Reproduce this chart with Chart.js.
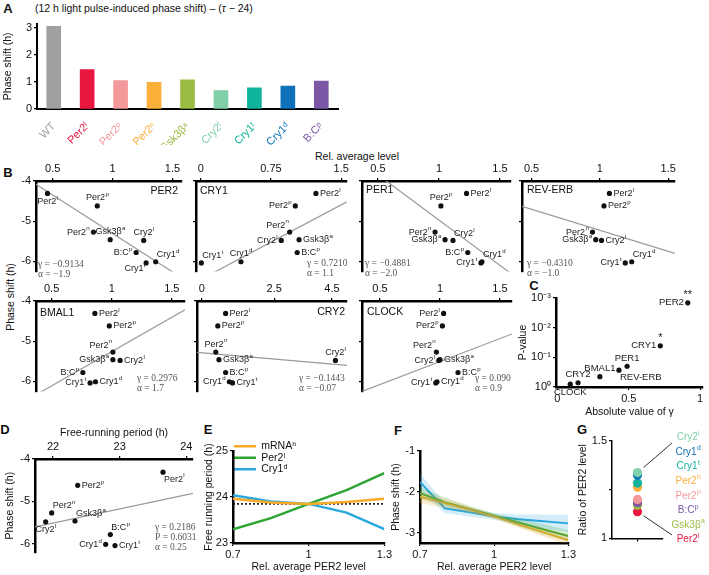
<!DOCTYPE html>
<html><head><meta charset="utf-8">
<script src="https://cdn.jsdelivr.net/npm/chart.js@4.4.1/dist/chart.umd.min.js"></script>
<style>
body{margin:0;width:709px;height:575px;position:relative;background:#fff;overflow:hidden;font-family:"Liberation Sans",Arial,sans-serif;color:#111}
.t{position:absolute;white-space:nowrap;transform:translate(-50%,-50%);line-height:1}
.lt{font-weight:bold;font-size:13px}
canvas{position:absolute}
</style></head><body>
<div class="t lt" style="left:8px;top:8px">A</div>
<div class="t lt" style="left:8px;top:172px">B</div>
<div class="t lt" style="left:534px;top:285px">C</div>
<div class="t lt" style="left:5px;top:429px">D</div>
<div class="t lt" style="left:208px;top:429px">E</div>
<div class="t lt" style="left:398px;top:430px">F</div>
<div class="t lt" style="left:582px;top:429px">G</div>
<div class="t" style="left:35px;top:8px;transform:translate(0,-50%);font-size:10.5px">(12 h light pulse-induced phase shift) – (<i>τ</i> − 24)</div>
<div class="t" style="left:357px;top:156px;font-size:10.5px">Rel. average level</div>
<div class="t" style="left:10px;top:297px;transform:translate(-50%,-50%) rotate(-90deg);font-size:10.5px">Phase shift (h)</div>
<script>
// ---- A: bar chart
const barCats = ['WT', 'Per2ˡ', 'Per2ᵖ', 'Per2ⁿ', 'Gsk3βᵃ', 'Cry2ˡ', 'Cry1ᵗ', 'Cry1ᵈ', 'B:Cᵖ'];
const barVals = [3.05, 1.45, 1.05, 0.98, 1.08, 0.68, 0.78, 0.85, 1.03];
const barColors = ['#a0a0a0', '#e8173f', '#f49a9a', '#fbb03b', '#9bbb43', '#80cfa9', '#10b39b', '#0d72b9', '#7b57a6'];
const barTicks = [0, 1, 2, 3];

// ---- B / D: genotypes and phase shifts
const genotypes = [['Per2', 'l'], ['Per2', 'p'], ['Per2', 'n'], ['Gsk3β', 'a'], ['Cry2', 'l'], ['B:C', 'p'], ['Cry1', 't'], ['Cry1', 'd']];
const phaseShift = [-4.31, -4.62, -5.27, -5.46, -5.48, -5.78, -6.04, -6.01];
const per2Level = [0.456, 0.872, 0.84, 0.98, 1.26, 1.197, 1.28, 1.36];
const cry1Level = [1.23, 1.01, 0.95, 1.05, 0.86, 1.03, 0.007, 0.43];
const per1Level = [1.226, 1.016, 0.968, 1.05, 1.115, 1.236, 1.344, 1.352];
const revErbLevel = [1.07, 1.03, 0.946, 0.97, 1.012, null, 1.186, 1.233];
const bmal1Level = [0.86, 0.98, 1.01, 1.01, 1.07, 0.76, 0.82, 0.865];
const cry2Level = [0.82, 0.55, 0.48, 0.59, 4.62, 0.82, 1.06, 0.95];
const clockLevel = [1.03, 1.02, 0.97, 1.0, 0.99, 1.15, 0.965, 0.975];
const freePeriod = [23.65, 22.37, 21.98, 22.33, 21.89, 22.86, 22.93, 22.79];

// regression lines (end points)
const per2Fit = [[0.36, -4.08], [1.52, -6.3]];
const cry1Fit = [[0.13, -6.29], [1.56, -4.52]];
const per1Fit = [[0.56, -3.98], [1.58, -6.28]];
const revErbFit = [[0.43, -4.63], [1.55, -5.8]];
const bmal1Fit = [[0.39, -6.3], [1.61, -4.22]];
const cry2Fit = [[-0.17, -5.28], [5.02, -5.6]];
const clockFit = [[0.35, -6.25], [1.6, -4.82]];
const periodFit = [[21.73, -5.6], [24.1, -4.81]];

const yTicks = [-6, -5, -4];
const yTickLabels = ['-6', '-5', '-4'];
const levelTicks = [0.5, 1, 1.5];
const levelTickLabels = ['0.5', '1', '1.5'];
const cry1Ticks = [0, 0.75, 1.5];
const cry1TickLabels = ['0', '0.75', '1.5'];
const cry2Ticks = [0, 2.5, 4.5];
const cry2TickLabels = ['0', '2.5', '4.5'];
const periodTicks = [22, 23, 24];
const periodTickLabels = ['22', '23', '24'];

const statsPer2 = ['γ = −0.9134', 'α = −1.9'];
const statsCry1 = ['γ = 0.7210', 'α = 1.1'];
const statsPer1 = ['γ = −0.4881', 'α = −2.0'];
const statsRevErb = ['γ = −0.4310', 'α = −1.0'];
const statsBmal1 = ['γ = 0.2976', 'α = 1.7'];
const statsCry2 = ['γ = −0.1443', 'α = −0.07'];
const statsClock = ['γ = 0.090', 'α = 0.9'];
const statsPeriod = ['γ = 0.2186', 'P = 0.6031', 'α = 0.25'];

// ---- C
const cNames = ['PER2', 'CRY1', 'PER1', 'REV-ERB', 'BMAL1', 'CRY2', 'CLOCK'];
const cGamma = [0.9134, 0.7210, 0.4881, 0.4310, 0.2976, 0.1443, 0.090];
const cP = [0.00145, 0.041, 0.2, 0.27, 0.45, 0.72, 0.8];
const cStars = ['**', '*', '', '', '', '', ''];
const cYTicks = [1e-3, 1e-2, 1e-1, 1];
const cYTickLabels = ['10⁻³', '10⁻²', '10⁻¹', '10⁰'];
const cXTicks = [0, 0.5, 1];
const cXTickLabels = ['0', '0.5', '1'];

// ---- E
const eX = [0.7, 0.85, 1, 1.15, 1.3];
const eMrna = [23.96, 23.88, 23.85, 23.89, 23.96];
const ePer2 = [23.3, 23.54, 23.85, 24.15, 24.52];
const eCry1 = [24.04, 23.9, 23.85, 23.66, 23.3];
const eRefX = [0.7, 1.3];
const eRef = [23.85, 23.85];

// ---- F
const fX = [0.7, 0.8, 0.9, 1.0, 1.1, 1.2, 1.3];
const fMrna = [-2.12, -2.27, -2.43, -2.6, -2.8, -2.99, -3.18];
const fMrnaHi = [-1.98, -2.16, -2.35, -2.54, -2.72, -2.88, -3.05];
const fMrnaLo = [-2.27, -2.39, -2.5, -2.66, -2.88, -3.1, -3.3];
const fPer2 = [-2.03, -2.25, -2.42, -2.58, -2.75, -2.92, -3.08];
const fPer2Hi = [-1.88, -2.14, -2.34, -2.52, -2.65, -2.79, -2.93];
const fPer2Lo = [-2.18, -2.36, -2.49, -2.64, -2.85, -3.05, -3.22];
const fCry1 = [-1.76, -2.4, -2.5, -2.6, -2.67, -2.72, -2.77];
const fCry1Hi = [-1.55, -2.27, -2.4, -2.52, -2.55, -2.55, -2.56];
const fCry1Lo = [-1.97, -2.52, -2.6, -2.68, -2.8, -2.9, -2.98];
const pvTicks = [0.7, 1, 1.3];
const pvTickLabels = ['0.7', '1', '1.3'];

// ---- G (drawn bottom to top)
const gNames = [['Per2', 'l'], ['Gsk3β', 'a'], ['B:C', 'p'], ['Per2', 'p'], ['Per2', 'n'], ['Cry1', 't'], ['Cry1', 'd'], ['Cry2', 'l']];
const gRatio = [1.137, 1.17, 1.183, 1.2, 1.262, 1.284, 1.325, 1.338];
const gColors = ['#e8173f', '#9bbb43', '#7b57a6', '#f49a9a', '#fbb03b', '#10b39b', '#0d72b9', '#80cfa9'];

const ORANGE = '#f7a928', GREEN = '#2ca532', BLUE = '#2aa7df';
const sans = '"Liberation Sans", Arial, sans-serif';
const serif = '"Liberation Serif", "DejaVu Serif", serif';

Chart.defaults.font.family = sans;
Chart.defaults.color = '#111';
Chart.defaults.animation = false;
Chart.defaults.plugins.legend.display = false;
Chart.defaults.plugins.tooltip.enabled = false;

function drawRich(ctx, base, sup, x, y, align, size, color, family) {
  const fam = family || sans;
  ctx.save();
  ctx.fillStyle = color;
  ctx.textBaseline = 'middle';
  ctx.textAlign = 'left';
  ctx.font = size + 'px ' + fam;
  const wb = ctx.measureText(base).width;
  let ws = 0;
  if (sup) { ctx.font = (size * 0.68) + 'px ' + fam; ws = ctx.measureText(sup).width; }
  const w = wb + ws;
  const x0 = align === 'right' ? x - w : align === 'center' ? x - w / 2 : x;
  ctx.font = size + 'px ' + fam;
  ctx.fillText(base, x0, y);
  if (sup) { ctx.font = (size * 0.68) + 'px ' + fam; ctx.fillText(sup, x0 + wb + 0.3, y - size * 0.38); }
  ctx.restore();
}

// labels next to points, placed by a short code
const ptLabelPlugin = {
  id: 'ptlabels',
  afterDatasetsDraw(chart) {
    chart.data.datasets.forEach((ds, di) => {
      if (!ds.ptLabels) return;
      const els = chart.getDatasetMeta(di).data;
      const fs = ds.ptSize || 9;
      ds.ptLabels.forEach((lab, i) => {
        const el = els[i], q = ds.ptPlace[i];
        if (!el || !lab || !lab[0]) return;
        let x = el.x, y = el.y, a = 'left';
        if (q === 'r') x += 4;
        else if (q === 'l') { x -= 4; a = 'right'; }
        else if (q === 't') { y -= 8; a = 'center'; }
        else if (q === 'b') { y += 8; a = 'center'; }
        else if (q === 'tr') { x += 1; y -= 7; }
        else if (q === 'tl') { x -= 1; y -= 7; a = 'right'; }
        else if (q === 'br') { x += 1; y += 7; }
        else if (q === 'bl') { x -= 1; y += 6; a = 'right'; }
        drawRich(chart.ctx, lab[0], lab[1], x, y, a, fs, ds.ptColor || '#222');
      });
    });
  }
};

function notesPlugin(box, items) {
  return {
    id: 'notes',
    afterDraw(chart) {
      items.forEach(n => drawRich(chart.ctx, n.t, n.s, n.x - box.l, n.y - box.t, n.align || 'left',
        n.size || 10, n.color || '#111', n.family));
    }
  };
}

function statNotes(x, y, lines) {
  return lines.map((t, i) => ({t, x, y: y + i * 10, size: 9.5, family: serif, color: '#555'}));
}

function axis(pos, min, max, ticks, labels, extra) {
  return Object.assign({
    type: 'linear', position: pos, min, max,
    border: {display: true, color: '#000', width: 2.5},
    grid: {drawOnChartArea: false, drawTicks: true, tickLength: 3, color: '#000', lineWidth: 1.2},
    afterBuildTicks: s => { s.ticks = ticks.map(v => ({value: v})); },
    ticks: {autoSkip: false, maxRotation: 0, padding: 2, font: {size: 11}, color: '#111',
      callback: (v, i) => labels ? labels[i] : ''}
  }, extra || {});
}

function axTitle(text, pad) {
  return {display: true, text, font: {size: 10.5}, color: '#111', padding: pad || {top: 2, bottom: 2}};
}

// place a chart so that its plot area lands on the given page rectangle
function mk(box, area, config) {
  const c = document.createElement('canvas');
  c.width = box.w; c.height = box.h;
  c.style.left = box.l + 'px'; c.style.top = box.t + 'px';
  c.style.width = box.w + 'px'; c.style.height = box.h + 'px';
  document.body.appendChild(c);
  const sides = {left: area.x0 - box.l, top: area.y0 - box.t, right: box.l + box.w - area.x1, bottom: box.t + box.h - area.y1};
  const pad = {left: 0, top: 0, right: 0, bottom: 0};
  const used = {};
  Object.values(config.options.scales).forEach(s => {
    const pos = s.position;
    used[pos] = true;
    s.afterFit = sc => { if (pos === 'left' || pos === 'right') sc.width = sides[pos]; else sc.height = sides[pos]; };
  });
  for (const k in sides) if (!used[k]) pad[k] = sides[k];
  config.options.layout = {padding: pad};
  config.options.responsive = false;
  return new Chart(c, config);
}

// ---------- A
mk({l: 0, t: 15, w: 342, h: 130}, {x0: 37, y0: 23, x1: 338, y1: 109}, {
  type: 'bar',
  data: {labels: barCats, datasets: [{data: barVals, backgroundColor: barColors, barThickness: 14}]},
  options: {scales: {
    x: {type: 'category', position: 'bottom',
      border: {display: true, color: '#000', width: 2},
      grid: {display: false},
      ticks: {color: c => barColors[c.index], minRotation: 45, maxRotation: 45, autoSkip: false, padding: 3, font: {size: 11}}},
    y: axis('left', 0, 3.15, barTicks, barTicks.map(String), {border: {display: true, color: '#000', width: 2}, title: axTitle('Phase shift (h)')})
  }}
});

// ---------- B
function bPanel(p) {
  const pts = [], labs = [], pl = [];
  p.xs.forEach((x, i) => {
    if (x == null) return;
    pts.push({x, y: phaseShift[i]}); labs.push(genotypes[i]); pl.push(p.place[i]);
  });
  return mk(p.box, p.area, {
    type: 'scatter',
    data: {datasets: [
      {data: pts, pointRadius: 2.6, backgroundColor: '#111', borderWidth: 0, order: 0, ptLabels: labs, ptPlace: pl},
      {data: p.fit.map(q => ({x: q[0], y: q[1]})), showLine: true, pointRadius: 0, borderColor: '#9a9a9a', borderWidth: 1.2, order: 1, clip: 0}
    ]},
    options: {scales: {
      x: axis(p.xPos || 'top', p.xr[0], p.xr[1], p.xt, p.xtl, p.xExtra),
      y: axis('left', p.yMin, -4, yTicks, p.yLab ? yTickLabels : null, p.yExtra)
    }},
    plugins: [ptLabelPlugin, notesPlugin(p.box, p.notes)]
  });
}

const r1 = {t: 159, h: 121, y0: 181, y1: 273};
const r2 = {t: 279, h: 121, y0: 301, y1: 394};

bPanel({box: {l: 0, t: r1.t, w: 186, h: r1.h}, area: {x0: 36, y0: r1.y0, x1: 183, y1: r1.y1},
  xs: per2Level, xr: [0.36, 1.58], xt: levelTicks, xtl: levelTickLabels, yLab: true, yMin: -6.25, fit: per2Fit,
  place: ['b', 't', 'l', 't', 't', 'l', 'bl', 'tr'],
  notes: [{t: 'PER2', x: 178, y: 191, align: 'right', size: 10.5}].concat(statNotes(38, 264, statsPer2))});

bPanel({box: {l: 186, t: r1.t, w: 165, h: r1.h}, area: {x0: 196, y0: r1.y0, x1: 348, y1: r1.y1},
  xs: cry1Level, xr: [-0.05, 1.56], xt: cry1Ticks, xtl: cry1TickLabels, yMin: -6.25, fit: cry1Fit,
  place: ['r', 'l', 'tl', 'r', 'l', 'r', 'tr', 't'],
  notes: [{t: 'CRY1', x: 200, y: 191, size: 10.5}].concat(statNotes(307, 263, statsCry1))});

bPanel({box: {l: 352, t: r1.t, w: 163, h: r1.h}, area: {x0: 362, y0: r1.y0, x1: 512, y1: r1.y1},
  xs: per1Level, xr: [0.37, 1.59], xt: levelTicks, xtl: levelTickLabels, yMin: -6.25, fit: per1Fit,
  place: ['r', 't', 'l', 'l', 'tr', 'l', 'l', 'tr'],
  notes: [{t: 'PER1', x: 366, y: 190, size: 10.5}].concat(statNotes(365, 263, statsPer1))});

bPanel({box: {l: 512, t: r1.t, w: 167, h: r1.h}, area: {x0: 522, y0: r1.y0, x1: 675, y1: r1.y1},
  xs: revErbLevel, xr: [0.43, 1.55], xt: levelTicks, xtl: levelTickLabels, yMin: -6.25, fit: revErbFit,
  place: ['r', 'r', 'l', 'l', 'r', null, 'l', 'tr'],
  notes: [{t: 'REV-ERB', x: 527, y: 190, size: 10.5}].concat(statNotes(527, 263, statsRevErb))});

bPanel({box: {l: 0, t: r2.t, w: 189, h: r2.h}, area: {x0: 36, y0: r2.y0, x1: 186, y1: r2.y1},
  xs: bmal1Level, xr: [0.37, 1.61], xt: levelTicks, xtl: levelTickLabels, yLab: true, yMin: -6.25, fit: bmal1Fit,
  place: ['r', 'r', 'tl', 'l', 'r', 'l', 'l', 'r'],
  notes: [{t: 'BMAL1', x: 40, y: 313, size: 10.5}].concat(statNotes(137, 378, statsBmal1))});

bPanel({box: {l: 187, t: r2.t, w: 164, h: r2.h}, area: {x0: 197, y0: r2.y0, x1: 348, y1: r2.y1},
  xs: cry2Level, xr: [-0.17, 5.02], xt: cry2Ticks, xtl: cry2TickLabels, yMin: -6.25, fit: cry2Fit,
  place: ['r', 'r', 't', 'r', 't', 'r', 'r', 'l'],
  notes: [{t: 'CRY2', x: 345, y: 312, align: 'right', size: 10.5}].concat(statNotes(299, 378, statsCry2))});

bPanel({box: {l: 352, t: r2.t, w: 164, h: r2.h}, area: {x0: 362, y0: r2.y0, x1: 513, y1: r2.y1},
  xs: clockLevel, xr: [0.35, 1.6], xt: levelTicks, xtl: levelTickLabels, yMin: -6.25, fit: clockFit,
  place: ['l', 'l', 'tl', 'r', 'l', 'r', 'l', 'r'],
  notes: [{t: 'CLOCK', x: 367, y: 312, size: 10.5}].concat(statNotes(475, 378, statsClock))});

// ---------- D
bPanel({box: {l: 0, t: 423, w: 197, h: 138}, area: {x0: 35, y0: 459, x1: 193, y1: 554},
  xs: freePeriod, xr: [21.73, 24.1], xt: periodTicks, xtl: periodTickLabels, yLab: true, yMin: -6.2, fit: periodFit,
  xExtra: {title: axTitle('Free-running period (h)', {top: 4, bottom: 1})},
  yExtra: {title: axTitle('Phase shift (h)', {top: 4, bottom: 2})},
  place: ['br', 'r', 'tr', 'tr', 'b', 'tr', 'r', 'l'],
  notes: statNotes(155, 527, statsPeriod)});

// ---------- C
const cBox = {l: 515, t: 285, w: 194, h: 135};
mk(cBox, {x0: 556, y0: 298, x1: 703, y1: 387}, {
  type: 'scatter',
  data: {datasets: [
    {data: cGamma.map((g, i) => ({x: g, y: cP[i]})), pointRadius: 2.6, backgroundColor: '#111', borderWidth: 0,
      ptLabels: cNames.map(n => [n, '']), ptPlace: ['l', 'l', 't', 'br', 't', 't', 'b'], ptSize: 9.5},
    {data: cGamma.map((g, i) => ({x: g, y: cP[i]})), pointRadius: 0,
      ptLabels: cStars.map(s => [s, '']), ptPlace: cStars.map(() => 't'), ptSize: 11}
  ]},
  options: {scales: {
    x: axis('bottom', -0.01, 1.02, cXTicks, cXTickLabels, {title: axTitle('Absolute value of γ', {top: 1, bottom: 2})}),
    y: axis('left', 1e-3, 1, cYTicks, cYTickLabels, {type: 'logarithmic', reverse: true, title: axTitle('P-value')})
  }},
  plugins: [ptLabelPlugin]
});

// ---------- E
function ln(xs, ys, color, label, extra) {
  return Object.assign({label, data: xs.map((x, i) => ({x, y: ys[i]})), showLine: true, pointRadius: 0,
    borderColor: color, backgroundColor: color, borderWidth: 2.5, fill: false}, extra || {});
}

mk({l: 201, t: 440, w: 193, h: 135}, {x0: 233, y0: 451, x1: 386, y1: 543}, {
  type: 'scatter',
  data: {datasets: [
    ln(eX, eMrna, ORANGE, 'mRNAⁿ'),
    ln(eX, ePer2, GREEN, 'Per2ˡ'),
    ln(eX, eCry1, BLUE, 'Cry1ᵈ'),
    ln(eRefX, eRef, '#000', 'ref', {borderWidth: 1.5, borderDash: [2, 2]})
  ]},
  options: {
    scales: {
      x: axis('bottom', 0.7, 1.3, pvTicks, pvTickLabels, {title: axTitle('Rel. average PER2 level')}),
      y: axis('left', 23, 25, [23, 24, 25], ['23', '24', '25'], {title: axTitle('Free running period (h)')})
    },
    plugins: {legend: {display: true, position: 'chartArea', align: 'start',
      labels: {usePointStyle: true, pointStyle: 'line', pointStyleWidth: 22, boxHeight: 6, padding: 1, font: {size: 10.5},
        filter: it => it.text !== 'ref'}}}
  }
});

// ---------- F
mk({l: 388, t: 440, w: 190, h: 135}, {x0: 420, y0: 451, x1: 570, y1: 543}, {
  type: 'scatter',
  data: {datasets: [
    ln(fX, fMrnaHi, 'rgba(0,0,0,0)', 'mh', {borderWidth: 0, backgroundColor: 'rgba(247,169,40,0.22)', fill: '+1'}),
    ln(fX, fMrnaLo, 'rgba(0,0,0,0)', 'ml', {borderWidth: 0}),
    ln(fX, fPer2Hi, 'rgba(0,0,0,0)', 'ph', {borderWidth: 0, backgroundColor: 'rgba(44,165,50,0.2)', fill: '+1'}),
    ln(fX, fPer2Lo, 'rgba(0,0,0,0)', 'pl', {borderWidth: 0}),
    ln(fX, fCry1Hi, 'rgba(0,0,0,0)', 'ch', {borderWidth: 0, backgroundColor: 'rgba(42,167,223,0.2)', fill: '+1'}),
    ln(fX, fCry1Lo, 'rgba(0,0,0,0)', 'cl', {borderWidth: 0}),
    ln(fX, fMrna, ORANGE, 'mRNAⁿ', {borderWidth: 2}),
    ln(fX, fPer2, GREEN, 'Per2ˡ', {borderWidth: 2}),
    ln(fX, fCry1, BLUE, 'Cry1ᵈ', {borderWidth: 2})
  ]},
  options: {scales: {
    x: axis('bottom', 0.7, 1.3, pvTicks, pvTickLabels, {title: axTitle('Rel. average PER2 level')}),
    y: axis('left', -3.25, -1, [-3, -2, -1], ['-3', '-2', '-1'], {title: axTitle('Phase shift (h)')})
  }}
});

// ---------- G
const gBox = {l: 575, t: 430, w: 134, h: 117};
const gLabelPlugin = {
  id: 'glabels',
  afterDatasetsDraw(chart) {
    const ctx = chart.ctx, els = chart.getDatasetMeta(0).data;
    const n = gNames.length, cx = 688 - gBox.l;
    for (let k = 0; k < n; k++) {
      const i = n - 1 - k;
      drawRich(ctx, gNames[i][0], gNames[i][1], cx, 437.5 - gBox.t + k * 14.6, 'center', 10, gColors[i]);
    }
    ctx.save();
    ctx.strokeStyle = '#333'; ctx.lineWidth = 1;
    const top = els[n - 1], bot = els[0];
    ctx.beginPath();
    ctx.moveTo(top.x + 6, top.y - 5); ctx.lineTo(672 - gBox.l, 443 - gBox.t);
    ctx.moveTo(bot.x + 6, bot.y + 4); ctx.lineTo(672 - gBox.l, 535 - gBox.t);
    ctx.stroke();
    ctx.restore();
  }
};
mk(gBox, {x0: 612, y0: 441, x1: 663, y1: 543}, {
  type: 'scatter',
  data: {datasets: [{data: gRatio.map(r => ({x: 1, y: r})), pointRadius: 4.6, backgroundColor: gColors, borderWidth: 0, clip: false}]},
  options: {scales: {
    x: axis('bottom', 0, 2, [1], [''], {border: {display: true, color: '#000', width: 1.5}}),
    y: axis('left', 1, 1.5, [1, 1.25, 1.5], ['1', '', '1.5'], {border: {display: true, color: '#000', width: 1.5}, title: axTitle('Ratio of PER2 level')})
  }},
  plugins: [gLabelPlugin]
});
</script>
</body></html>
